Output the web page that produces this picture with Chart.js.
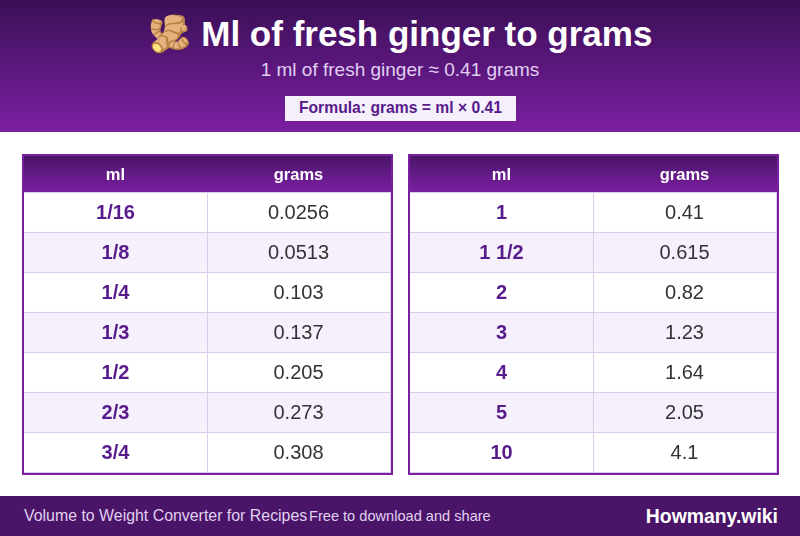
<!DOCTYPE html>
<html>
<head>
<meta charset="utf-8">
<script src="https://cdn.jsdelivr.net/npm/chart.js@4"></script>
<style>
  html, body { margin: 0; padding: 0; background: #fff; }
  body { width: 800px; height: 536px; position: relative; overflow: hidden; font-family: "Liberation Sans", Arial, sans-serif; }
  .top { position: absolute; left: 0; top: 0; width: 800px; height: 132px; text-align: center; background: linear-gradient(180deg, #3a0f56, #7b1fa2); }
  .top h1 { position: absolute; left: 0; right: 0; top: 13px; margin: 0; font-size: 35px; line-height: 42px; color: #fff; font-weight: bold; }
  .top p { position: absolute; left: 0; right: 0; top: 59px; margin: 0; font-size: 19px; line-height: 22px; color: #e0d0f0; }
  .formula { position: absolute; left: 285px; top: 96px; width: 231px; height: 25px; line-height: 24px; background: #f5f0fb; color: #581b8c; font-size: 15.7px; font-weight: bold; }
  .box { position: absolute; top: 154px; width: 367px; height: 317px; border: 2px solid #7b1fa2; }
  .box canvas { display: block; }
  .foot { position: absolute; left: 0; top: 496px; width: 800px; height: 40px; background: #4a1568; }
  .foot span { position: absolute; top: 10px; line-height: 20px; white-space: nowrap; color: #e0d0f0; }
  .foot .brand { right: 22px; color: #fff; font-size: 19.4px; font-weight: bold; }
</style>
</head>
<body>
<div class="top">
  <h1>🫚 Ml of fresh ginger to grams</h1>
  <p>1 ml of fresh ginger ≈ 0.41 grams</p>
  <div class="formula">Formula: grams = ml × 0.41</div>
</div>
<div class="box" style="left:22px"><canvas id="left-table" width="367" height="317"></canvas></div>
<div class="box" style="left:408px"><canvas id="right-table" width="367" height="317"></canvas></div>
<div class="foot">
  <span style="left:24px;font-size:15.9px">Volume to Weight Converter for Recipes</span>
  <span style="left:309px;font-size:14.6px">Free to download and share</span>
  <span class="brand">Howmany.wiki</span>
</div>

<script>
const headers = ['ml', 'grams'];
const leftMl = ['1/16', '1/8', '1/4', '1/3', '1/2', '2/3', '3/4'];
const leftGrams = ['0.0256', '0.0513', '0.103', '0.137', '0.205', '0.273', '0.308'];
const rightMl = ['1', '1 1/2', '2', '3', '4', '5', '10'];
const rightGrams = ['0.41', '0.615', '0.82', '1.23', '1.64', '2.05', '4.1'];

const lineColor = '#dccbea';

const cellsPlugin = {
    id: 'cells',
    // header strip sits in the space of the top axis
    beforeDraw(chart) {
        const c = chart.ctx;
        const g = c.createLinearGradient(0, 0, 0, chart.chartArea.top);
        g.addColorStop(0, '#4a1568');
        g.addColorStop(1, '#7b1fa2');
        c.fillStyle = g;
        c.fillRect(0, 0, chart.width, chart.chartArea.top);
    },
    afterDraw(chart, args, opts) {
        const c = chart.ctx;
        const x = chart.scales.x;
        const y = chart.scales.y;
        c.save();
        c.strokeStyle = lineColor;
        c.lineWidth = 1;
        c.beginPath();
        [1, 2].forEach((v) => {
            c.moveTo(Math.round(x.getPixelForValue(v)) + 0.5, chart.chartArea.top);
            c.lineTo(Math.round(x.getPixelForValue(v)) + 0.5, chart.chartArea.bottom + 1);
        });
        c.stroke();
        c.textAlign = 'center';
        c.textBaseline = 'middle';
        chart.data.labels.forEach((label, i) => {
            const py = y.getPixelForValue(i) + 1;
            c.font = 'bold 20px "Liberation Sans"';
            c.fillStyle = '#581b8c';
            c.fillText(label, x.getPixelForValue(0.5), py);
            c.font = '20px "Liberation Sans"';
            c.fillStyle = '#333333';
            c.fillText(opts.grams[i], x.getPixelForValue(1.5), py);
        });
        c.restore();
    }
};

function drawTable(id, ml, grams) {
    new Chart(document.getElementById(id), {
        type: 'bar',
        data: {
            labels: ml,
            datasets: [{
                data: ml.map(() => [0, 2]),
                backgroundColor: ml.map((m, i) => i % 2 ? '#f5f0fb' : '#ffffff'),
                barPercentage: 1,
                categoryPercentage: 1
            }]
        },
        options: {
            indexAxis: 'y',
            responsive: false,
            animation: false,
            layout: { padding: { right: 1, bottom: 1 } },
            plugins: { legend: { display: false }, tooltip: { enabled: false }, cells: { grams: grams } },
            scales: {
                x: {
                    position: 'top',
                    min: 0,
                    max: 2,
                    grid: { display: false, drawTicks: false },
                    border: { display: false },
                    afterBuildTicks(axis) { axis.ticks = [{ value: 0.5 }, { value: 1.5 }]; },
                    afterFit(axis) { axis.height = 36; },
                    ticks: {
                        maxRotation: 0,
                        padding: 7,
                        color: '#ffffff',
                        font: { family: '"Liberation Sans"', size: 16.5, weight: 'bold' },
                        callback: (v) => headers[v < 1 ? 0 : 1]
                    }
                },
                y: {
                    grid: { color: lineColor, drawTicks: false, z: 1 },
                    border: { display: false },
                    ticks: { display: false }
                }
            }
        },
        plugins: [cellsPlugin]
    });
}

drawTable('left-table', leftMl, leftGrams);
drawTable('right-table', rightMl, rightGrams);
</script>
</body>
</html>
